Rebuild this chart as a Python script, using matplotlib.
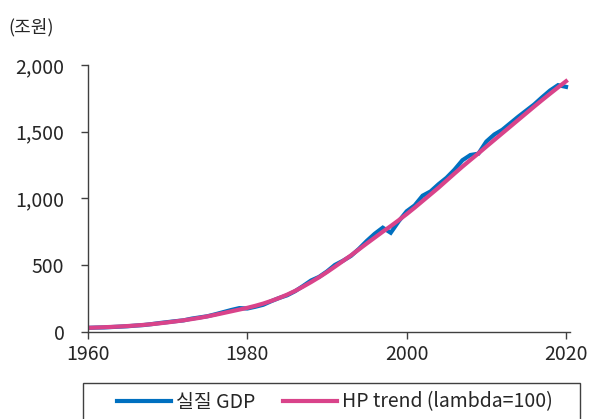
import matplotlib.pyplot as plt
from matplotlib.patches import Rectangle
from matplotlib.ticker import FuncFormatter

plt.rcParams['font.family'] = ['Noto Sans CJK KR', 'DejaVu Sans']

years = list(range(1960, 2021))

# 실질 GDP (조원)
gdp = [29, 31, 32, 35, 38, 41, 46, 50, 57, 65,
       72, 79, 85, 98, 107, 116, 131, 147, 163, 177,
       174, 187, 202, 229, 253, 273, 304, 343, 384, 411,
       452, 501, 532, 568, 621, 681, 735, 780, 742, 828,
       903, 947, 1020, 1052, 1106, 1154, 1215, 1286, 1325, 1335,
       1426, 1479, 1514, 1563, 1612, 1658, 1704, 1758, 1809, 1849,
       1836]

# HP trend (lambda=100)
trend = [29, 31, 33.5, 36, 39, 42.5, 46.5, 51, 56.5, 63,
         70, 77.5, 85.5, 94.5, 104, 115, 127, 140, 153, 166,
         179, 194, 211, 231, 253, 278, 306, 338, 372, 408,
         447, 488, 530, 572, 617, 662, 706, 750, 792, 836,
         882, 930, 980, 1030, 1080, 1133, 1186, 1238, 1288, 1337,
         1388, 1438, 1488, 1538, 1588, 1638, 1688, 1737, 1785, 1832,
         1878]

blue = '#0070C0'
pink = '#D9438A'
txt = '#262626'

fig = plt.figure(figsize=(5.91, 4.19), dpi=100)
ax = fig.add_axes([88/591, 1-331.7/419, (570-88)/591, (331.7-65)/419])

ax.plot(years, gdp, color=blue, lw=3, label='실질 GDP', solid_joinstyle='miter')
ax.plot(years, trend, color=pink, lw=3, label='HP trend (lambda=100)')

ax.set_xlim(1960, 2020.5)
ax.set_ylim(0, 2000)
ax.set_xticks([1960, 1980, 2000, 2020])
ax.set_yticks([0, 500, 1000, 1500, 2000])
ax.yaxis.set_major_formatter(FuncFormatter(lambda v, p: f'{int(v):,}'))

for s in ['top', 'right']:
    ax.spines[s].set_visible(False)
for s in ['left', 'bottom']:
    ax.spines[s].set_color('#404040')
    ax.spines[s].set_linewidth(1)
ax.tick_params(direction='out', length=5, width=1, color='#404040',
               labelsize=14, labelcolor=txt)
ax.tick_params(axis='y', pad=12)
ax.tick_params(axis='x', pad=4)

fig.text(8/591, 1-27/419, '(조원)', fontsize=13, color=txt, va='center', ha='left')

# legend box at the bottom
fig.patches.append(Rectangle((83/591, -0.02), (580-83)/591, (419-383)/419 + 0.02,
                             transform=fig.transFigure, fill=False,
                             ec='#404040', lw=1))
fig.legend(loc='center', bbox_to_anchor=(335/591, 1-402/419), ncol=2,
           frameon=False, fontsize=14, handlelength=2.8, handletextpad=0.25,
           columnspacing=1.4, labelcolor=txt)

fig.savefig('out.png', dpi=100)
